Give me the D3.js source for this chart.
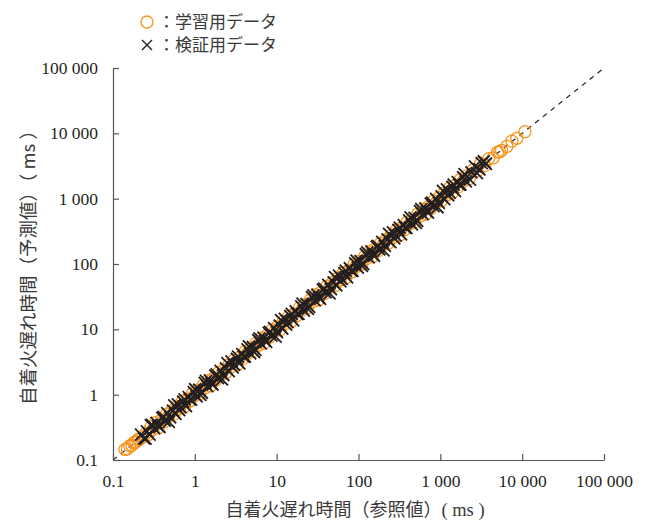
<!DOCTYPE html>
<html>
<head>
<meta charset="utf-8">
<script src="https://cdn.jsdelivr.net/npm/d3@7"></script>
<style>
  body { margin: 0; background: #fff; }
</style>
</head>
<body>
<div id="chart"></div>
<script>
// training data (reference vs predicted, ms)
var trainRef = [0.14,0.15,0.16,0.17,0.18,0.19,0.2,0.21,0.23,0.25,
  0.27,0.29,0.31,0.33,0.36,0.39,0.42,0.45,0.48,0.52,
  0.56,0.6,0.65,0.7,0.75,0.81,0.87,0.94,1.0,1.08,
  1.16,1.25,1.35,1.45,1.56,1.68,1.8,1.95,2.1,2.25,
  2.4,2.6,2.8,3.0,3.3,3.55,3.8,4.1,4.4,4.8,
  5.2,5.6,6.0,6.5,7.0,7.6,8.2,8.8,9.5,10.2,
  11,12,13,14,15,16.2,17.5,19,20.5,22,
  24,26,28,30,32.5,35,38,41,44,48,
  52,56,60,65,70,76,82,88,95,102,
  110,119,128,138,149,160,173,186,200,216,
  233,251,270,291,314,338,364,392,422,455,
  490,528,569,613,660,711,766,825,889,958,
  1030,1110,1200,1290,1390,1500,1620,1750,1890,2050,
  2250,2500,2800,3100,3500,3900,4400,5000,5300,5600,
  6500,7500,8600,10800];
var trainPred = [0.145,0.148,0.165,0.168,0.185,0.188,0.205,0.208,0.225,0.255,
  0.243,0.319,0.295,0.373,0.313,0.413,0.386,0.504,0.466,0.562,
  0.504,0.66,0.618,0.791,0.653,0.859,0.8,1.05,0.97,1.17,
  1.04,1.375,1.28,1.64,1.36,1.78,1.66,2.18,2.04,2.43,
  2.16,2.86,2.66,3.39,2.87,3.76,3.5,4.59,4.27,5.18,
  4.68,6.16,5.7,7.35,6.09,8.06,7.54,9.86,9.22,11.0,
  9.9,13.2,12.35,15.8,13.05,17.2,16.1,21.3,19.9,23.8,
  21.6,28.6,26.6,33.9,28.3,37.1,35,45.9,42.7,51.8,
  46.8,61.6,57,73.5,60.9,80.6,75.4,98.6,92.2,110,
  99,131,122,156,130,170,159,208,194,233,
  210,276,257,329,273,358,335,439,409,491,
  441,581,541,693,574,754,705,924,862,1035,
  927,1221,1140,1458,1209,1590,1490,1960,1833,2214,
  2025,2750,2660,3500,3200,4100,4200,5150,5200,5500,
  6300,7600,8400,10600];

// validation data
var testRef = [0.22,0.24,0.26,0.28,0.3,0.32,0.34,0.37,0.4,0.43,
  0.46,0.5,0.54,0.58,0.62,0.67,0.72,0.78,0.84,0.9,
  0.97,1.05,1.13,1.22,1.32,1.42,1.53,1.65,1.78,1.92,
  2.07,2.23,2.4,2.6,2.8,3.02,3.26,3.5,3.8,4.1,
  4.4,4.75,5.1,5.5,5.95,6.4,6.9,7.45,8.0,8.65,
  9.3,10.1,10.9,11.7,12.6,13.6,14.7,15.9,17.1,18.5,
  20,21.5,23.2,25,27,29.2,31.5,34,36.7,39.6,
  42.7,46,49.7,53.6,57.8,62.4,67.3,72.6,78.3,84.5,
  91,98,106,114,123,133,144,155,167,180,
  195,210,227,245,264,285,307,331,357,385,
  416,449,484,522,563,608,656,708,764,824,
  889,960,1035,1117,1205,1300,1403,1514,1633,1762,
  1900,2050,2400,2800,3200,3600,
  0.25,0.29,0.355,0.415,0.48,0.56,0.645,0.75,0.87,1.01,
  1.17,1.37,1.59,1.85,2.15,2.5,2.9,3.38,3.95,4.58,
  5.3,6.17,7.17,8.3,9.7,11.3,13.1,15.3,17.8,20.7,
  24.1,28.1,32.7,38.1,44.3,51.6,60.1,69.9,81.4,94.5,
  110,128,149,173,202,236,274,319,371,432,
  502,585,681,794,924,1075,1250,1455,1695,1975,
  2300,2650,3000,3400];
var testPred = [0.245,0.215,0.275,0.245,0.345,0.305,0.37,0.32,0.44,0.40,
  0.52,0.45,0.57,0.51,0.71,0.64,0.78,0.67,0.92,0.84,
  1.09,0.94,1.19,1.07,1.52,1.35,1.65,1.42,1.96,1.79,
  2.32,2.0,2.52,2.29,3.22,2.87,3.52,3.01,4.18,3.81,
  4.93,4.28,5.36,4.84,6.84,6.08,7.45,6.41,8.8,8.04,
  10.4,9.1,11.4,10.3,14.5,12.9,15.9,13.7,18.8,17.2,
  22.4,19.4,24.4,22,31,27.7,34,29.2,40.4,36.8,
  47.8,41.4,52.2,47.2,66.5,59.3,72.7,62.4,86.1,78.6,
  102,88,111,100,141,126,156,133,184,167,
  218,189,238,216,304,271,332,285,393,358,
  466,404,508,459,647,578,708,609,840,766,
  996,864,1087,983,1386,1235,1515,1302,1796,1639,
  2128,1845,2520,2464,3500,3420,
  0.213,0.342,0.334,0.457,0.384,0.683,0.581,0.848,0.844,1.21,
  0.995,1.62,1.49,2.04,1.72,3.05,2.61,3.82,3.83,5.5,
  4.5,7.28,6.74,9.13,7.76,13.8,11.8,17.3,17.3,24.8,
  20.5,33.2,30.7,41.9,35.4,63,54.1,79,79,113,
  93.5,151,140,190,162,288,247,360,360,518,
  427,690,640,873,739,1312,1125,1644,1644,2370,
  1955,3127,2820,3740];

var tickVals = [0.1, 1, 10, 100, 1000, 10000, 100000];
var tickLabels = ['0.1', '1', '10', '100', '1 000', '10 000', '100 000'];

var W = 649, H = 521;
var orange = '#f7941d', dark = '#231f20';
var serif = '"Liberation Serif", "Times New Roman", serif';
var jpFont = '"Noto Sans CJK JP", sans-serif';

var svg = d3.select('#chart').append('svg')
    .attr('width', W).attr('height', H);

var x = d3.scaleLog().domain([0.1, 100000]).range([113, 604]);
var y = d3.scaleLog().domain([0.1, 100000]).range([460, 68]);

// 1:1 line
svg.append('line')
    .attr('x1', x(0.1)).attr('y1', y(0.1))
    .attr('x2', x(100000)).attr('y2', y(100000))
    .attr('stroke', dark).attr('stroke-width', 1.2)
    .attr('stroke-dasharray', '5,5');

var train = trainRef.map((d, i) => ({ r: d, p: trainPred[i] }));
var test = testRef.map((d, i) => ({ r: d, p: testPred[i] }));

svg.append('g').selectAll('circle')
    .data(train).enter().append('circle')
    .attr('cx', d => x(d.r)).attr('cy', d => y(d.p))
    .attr('r', 6)
    .attr('fill', 'none').attr('stroke', orange).attr('stroke-width', 1.3);

var cross = 'M-6,-6L6,6M-6,6L6,-6';
svg.append('g').selectAll('path')
    .data(test).enter().append('path')
    .attr('d', cross)
    .attr('transform', d => 'translate(' + x(d.r) + ',' + y(d.p) + ')')
    .attr('stroke', dark).attr('stroke-width', 1.8).attr('fill', 'none');

// axes
var xAxis = d3.axisBottom(x).tickValues(tickVals)
    .tickFormat((d, i) => tickLabels[i]).tickSizeInner(-6).tickSizeOuter(0).tickPadding(15);
var yAxis = d3.axisLeft(y).tickValues(tickVals)
    .tickFormat((d, i) => tickLabels[i]).tickSizeInner(-6).tickSizeOuter(0).tickPadding(15);

var gx = svg.append('g').attr('transform', 'translate(0,460)').call(xAxis);
var gy = svg.append('g').attr('transform', 'translate(113,0)').call(yAxis);
[gx, gy].forEach(g => {
  g.attr('font-family', null).attr('font-size', null);
  g.select('.domain').attr('stroke', '#555').attr('stroke-width', 1.2);
  g.selectAll('.tick line').attr('stroke', '#555').attr('stroke-width', 1.2);
  g.selectAll('.tick text')
      .style('font-family', serif).style('font-size', '17.5px').attr('fill', dark);
});

// axis titles
var xt = svg.append('text').attr('x', 355).attr('y', 516)
    .attr('text-anchor', 'middle').attr('fill', '#3a3a3a');
xt.append('tspan').style('font-family', jpFont).style('font-size', '18px').text('自着火遅れ時間（参照値）');
xt.append('tspan').style('font-family', serif).style('font-size', '18.5px').text('( ms )');

var yt = svg.append('text')
    .attr('transform', 'translate(35,263) rotate(-90)')
    .attr('text-anchor', 'middle').attr('fill', '#3a3a3a');
yt.append('tspan').style('font-family', jpFont).style('font-size', '18.5px').text('自着火遅れ時間（予測値）（ ms ）');

// legend
svg.append('circle').attr('cx', 147).attr('cy', 22).attr('r', 6)
    .attr('fill', 'none').attr('stroke', orange).attr('stroke-width', 1.3);
svg.append('path').attr('d', 'M-5,-5L5,5M-5,5L5,-5')
    .attr('transform', 'translate(147,45)')
    .attr('stroke', dark).attr('stroke-width', 1.4);
svg.append('text').attr('x', 158).attr('y', 28).attr('fill', '#3a3a3a')
    .style('font-family', jpFont).style('font-size', '17px').text('：学習用データ');
svg.append('text').attr('x', 158).attr('y', 51).attr('fill', '#3a3a3a')
    .style('font-family', jpFont).style('font-size', '17px').text('：検証用データ');
</script>
</body>
</html>
